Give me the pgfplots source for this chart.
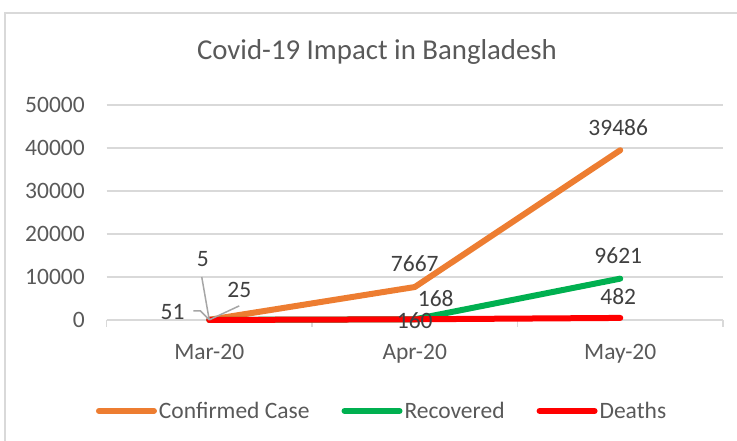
\documentclass[border=0pt]{standalone}
\usepackage{pgfplots}
\pgfplotsset{compat=1.18}
\usepackage{fontspec}
\setmainfont{Carlito}
\definecolor{cOrange}{HTML}{ED7D31}
\definecolor{cGreen}{HTML}{00B050}
\definecolor{cRed}{HTML}{FF0000}
\definecolor{cGrid}{HTML}{D9D9D9}
\definecolor{cTxt}{HTML}{595959}
\definecolor{cLab}{HTML}{404040}
\definecolor{cLead}{HTML}{A6A6A6}
\begin{document}
\begin{tikzpicture}
\clip (0pt,0pt) rectangle (737pt,441pt);
\path[use as bounding box] (0pt,0pt) rectangle (737pt,441pt);
\draw[cGrid, line width=1.5pt] (5pt,428pt) rectangle (770pt,-20pt);
\node[text=cTxt, font=\fontsize{28.8}{32}\selectfont] at (377pt,389pt) {Covid-19 Impact in Bangladesh};
\begin{axis}[
  at={(106.5pt,121pt)}, anchor=south west,
  scale only axis, width=616.5pt, height=215pt,
  xmin=-0.5, xmax=2.5, ymin=0, ymax=50000,
  axis x line*=bottom, axis y line*=left,
  axis line style={cGrid, line width=1.5pt, -},
  y axis line style={draw=none},
  xtick={0,1,2}, xticklabels={Mar-20,Apr-20,May-20},
  extra x ticks={-0.5,0.5,1.5,2.5}, extra x tick labels={},
  extra x tick style={major tick length=7pt, tick align=outside, tick style={cGrid, line width=1.5pt}},
  ytick={0,10000,20000,30000,40000,50000},
  ymajorgrids, grid style={cGrid, line width=1.5pt},
  major tick length=0pt,
  scaled ticks=false,
  /pgf/number format/assume math mode=true,
  /pgf/number format/1000 sep={},
  tick label style={text=cTxt, font=\fontsize{23.5}{26}\selectfont},
  yticklabel style={anchor=east, inner sep=0pt, xshift=-21.5pt},
  xticklabel style={anchor=base, inner sep=0pt, yshift=-40pt},
  clip=false,
  legend columns=3,
  legend style={at={(0.447,-0.423)}, anchor=center, draw=none, fill=none,
    font=\fontsize{23.5}{26}\selectfont, text=cTxt,
    /tikz/every even column/.append style={column sep=30pt},
    inner sep=0pt},
  legend image code/.code={\draw[#1, line width=6pt, line cap=round] (0pt,0pt) -- (55pt,0pt);},
  every axis plot/.append style={line width=6pt, line join=round, line cap=round},
]
\addplot[cOrange, mark=none] coordinates {(0,51) (1,7667) (2,39486)};
\addlegendentry{Confirmed Case}
\addplot[cGreen, mark=none] coordinates {(0,25) (1,160) (2,9621)};
\addlegendentry{Recovered}
\addplot[cRed, mark=none] coordinates {(0,5) (1,168) (2,482)};
\addlegendentry{Deaths}
% leader lines
\draw[cLead, line width=1.5pt] (axis cs:0,51) ++(-16pt,9pt) -- ++(7pt,0pt) -- (axis cs:0,51);
\draw[cLead, line width=1.5pt] (axis cs:0,5) ++(-7.5pt,43pt) -- (axis cs:0,5);
\draw[cLead, line width=1.5pt] (axis cs:0,25) ++(30pt,14pt) -- (axis cs:0,25);
% data labels
\begin{scope}[every node/.style={text=cLab, font=\fontsize{23.5}{26}\selectfont, inner sep=0pt}]
\node at ([shift={(-36.75pt,7.3pt)}]axis cs:0,51) {51};
\node at ([shift={(-6.5pt,61pt)}]axis cs:0,5) {5};
\node at ([shift={(30pt,30pt)}]axis cs:0,25) {25};
\node at ([shift={(0pt,23pt)}]axis cs:1,7667) {7667};
\node at ([shift={(21pt,21pt)}]axis cs:1,168) {168};
\node at ([shift={(0pt,-1pt)}]axis cs:1,160) {160};
\node at ([shift={(-2pt,23pt)}]axis cs:2,39486) {39486};
\node at ([shift={(-2pt,23pt)}]axis cs:2,9621) {9621};
\node at ([shift={(-2pt,21pt)}]axis cs:2,482) {482};
\end{scope}
\end{axis}
\end{tikzpicture}
\end{document}
